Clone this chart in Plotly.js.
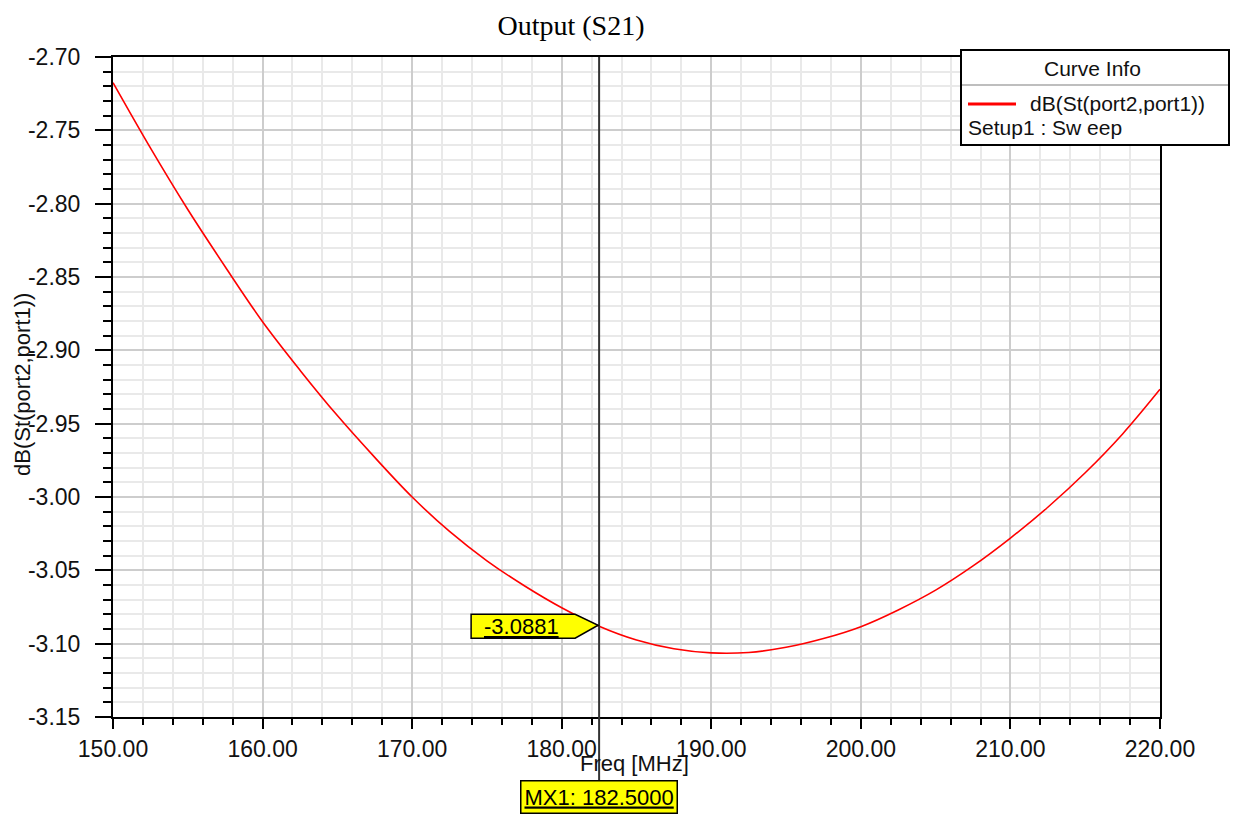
<!DOCTYPE html>
<html>
<head>
<meta charset="utf-8">
<script src="https://cdn.plot.ly/plotly-3.0.1.min.js"></script>
<style>html,body{margin:0;padding:0;background:#fff;}#chart{width:1237px;height:814px;}</style>
</head>
<body>
<div id="chart"></div>
<script>
// ---- data ----
const freqMHz = [150, 152.5, 155, 157.5, 160, 162.5, 165, 167.5, 170, 172.5, 175, 177.5, 180, 182.5,
                 185, 187.5, 190, 192.5, 195, 197.5, 200, 202.5, 205, 207.5, 210, 212.5, 215, 217.5, 220];
const s21dB = [-2.7175, -2.762, -2.804, -2.843, -2.8805, -2.9135, -2.9445, -2.973, -3.000, -3.0235, -3.0435, -3.0605, -3.0755, -3.0881,
               -3.0975, -3.1035, -3.1063, -3.1060, -3.1025, -3.0965, -3.0884, -3.077, -3.0635, -3.047, -3.028, -3.007, -2.9835, -2.957, -2.9266];
const yTickVals = [-3.15, -3.10, -3.05, -3.00, -2.95, -2.90, -2.85, -2.80, -2.75, -2.70];
const yTickText = ["-3.15", "-3.10", "-3.05", "-3.00", "-2.95", "-2.90", "-2.85", "-2.80", "-2.75", "-2.70"];
const xTickVals = [150, 160, 170, 180, 190, 200, 210, 220];
const xTickText = ["150.00", "160.00", "170.00", "180.00", "190.00", "200.00", "210.00", "220.00"];
const markerFreq = 182.5;
const markerValue = -3.0881;
const markerValueText = "-3.0881";
const markerFreqText = "MX1: 182.5000";
const curveName = "dB(St(port2,port1))";
const sweepName = "Setup1 : Sw eep";
const chartTitle = "Output (S21)";
const xTitle = "Freq [MHz]";

// ---- layout geometry helpers (pixel -> paper) ----
const W = 1237, H = 814;
const M = {l: 113, r: 77, t: 57, b: 97};
const pw = W - M.l - M.r, ph = H - M.t - M.b;
const px = x => (x - M.l) / pw;
const py = y => (H - M.b - y) / ph;

const sans = "Liberation Sans, Arial, sans-serif";
const txt = "#111111";

const trace = {
  x: freqMHz, y: s21dB, type: "scatter", mode: "lines",
  line: {color: "#ff0000", width: 1.6, shape: "spline", smoothing: 1},
  hoverinfo: "skip", showlegend: false
};

const layout = {
  width: W, height: H,
  margin: M,
  paper_bgcolor: "#ffffff", plot_bgcolor: "#ffffff",
  showlegend: false,
  title: {text: chartTitle, x: 571 / W, xanchor: "center", xref: "container", y: 1 - 25 / H, yanchor: "middle", yref: "container",
          font: {family: "Liberation Serif, Times New Roman, serif", size: 28, color: "#000"}},
  xaxis: {
    range: [150, 220], tickmode: "array", tickvals: xTickVals, ticktext: xTickText,
    ticks: "outside", ticklen: 10, tickwidth: 2, tickcolor: "#000",
    showline: true, linecolor: "#000", linewidth: 2, mirror: true,
    showgrid: true, gridcolor: "#cdcdcd", gridwidth: 2,
    zeroline: false,
    tickfont: {family: sans, size: 23, color: txt},
    minor: {tickmode: "linear", tick0: 150, dtick: 2, ticks: "outside", ticklen: 6, tickwidth: 2, tickcolor: "#000", showgrid: true, gridcolor: "#e9e9e9", gridwidth: 2}
  },
  yaxis: {
    range: [-3.15, -2.70], tickmode: "array", tickvals: yTickVals, ticktext: yTickText,
    ticks: "outside", ticklen: 16, tickwidth: 2, tickcolor: "#000",
    ticklabelstandoff: 10,
    showline: true, linecolor: "#000", linewidth: 2, mirror: true,
    showgrid: true, gridcolor: "#cdcdcd", gridwidth: 2,
    zeroline: false,
    tickfont: {family: sans, size: 23, color: txt},
    minor: {tickmode: "linear", tick0: -2.70, dtick: 0.01, ticks: "outside", ticklen: 8, tickwidth: 2, tickcolor: "#000", showgrid: true, gridcolor: "#e9e9e9", gridwidth: 2}
  },
  shapes: [
    // marker line
    {type: "line", xref: "x", yref: "paper", x0: markerFreq, x1: markerFreq, y0: py(782), y1: 1,
     line: {color: "#333333", width: 2}, layer: "above"},
    // value flag (pentagon) anchored at the marker point
    {type: "path", xref: "x", yref: "y", xsizemode: "pixel", ysizemode: "pixel",
     xanchor: markerFreq, yanchor: markerValue,
     path: "M -128,12 L -24,12 L -1,1 L -24,-12 L -128,-12 Z",
     fillcolor: "#ffff00", line: {color: "#000", width: 1.5}, layer: "above"},
    // legend box
    {type: "rect", xref: "paper", yref: "paper", x0: px(961), x1: px(1229), y0: py(145), y1: py(50),
     fillcolor: "#ffffff", line: {color: "#000", width: 2}, layer: "above"},
    {type: "line", xref: "paper", yref: "paper", x0: px(962), x1: px(1228), y0: py(85), y1: py(85),
     line: {color: "#a8a8a8", width: 1.5}, layer: "above"},
    {type: "line", xref: "paper", yref: "paper", x0: px(968), x1: px(1016), y0: py(104), y1: py(104),
     line: {color: "#ff0000", width: 3}, layer: "above"}
  ],
  annotations: [
    {text: xTitle, xref: "paper", yref: "paper", x: px(634), y: py(763), xanchor: "center", yanchor: "middle",
     showarrow: false, font: {family: sans, size: 22, color: txt}},
    {text: curveName, xref: "paper", yref: "paper", x: px(22), y: py(385), xanchor: "center", yanchor: "middle",
     textangle: -90, showarrow: false, font: {family: sans, size: 22, color: txt}},
    {text: "<u>" + markerValueText + "</u>", xref: "x", yref: "y", x: markerFreq, y: markerValue,
     xanchor: "center", yanchor: "middle", xshift: -78, yshift: 0, showarrow: false,
     font: {family: sans, size: 22, color: "#000"}},
    {text: "<u>" + markerFreqText + "</u>", xref: "x", yref: "paper", x: markerFreq, y: py(797),
     xanchor: "center", yanchor: "middle", showarrow: false,
     bgcolor: "#ffff00", bordercolor: "#000", borderwidth: 1.5, borderpad: 3,
     font: {family: sans, size: 22, color: "#000"}},
    {text: "Curve Info", xref: "paper", yref: "paper", x: px(1092), y: py(68), xanchor: "center", yanchor: "middle",
     showarrow: false, font: {family: sans, size: 21, color: txt}},
    {text: curveName, xref: "paper", yref: "paper", x: px(1028), y: py(104), xanchor: "left", yanchor: "middle",
     showarrow: false, font: {family: sans, size: 21, color: txt}},
    {text: sweepName, xref: "paper", yref: "paper", x: px(966), y: py(127), xanchor: "left", yanchor: "middle",
     showarrow: false, font: {family: sans, size: 21, color: txt}}
  ]
};

Plotly.newPlot("chart", [trace], layout, {staticPlot: true, displayModeBar: false});
</script>
</body>
</html>
